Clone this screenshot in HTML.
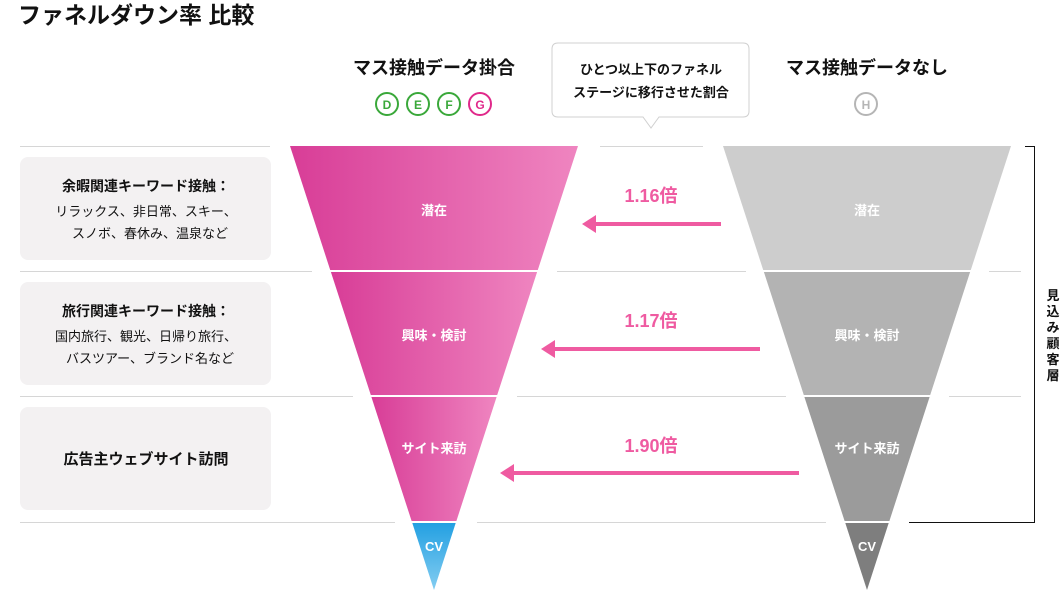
<!DOCTYPE html>
<html><head><meta charset="utf-8"><style>
html,body{margin:0;padding:0;background:#fff;}
body{width:1060px;height:591px;overflow:hidden;font-family:"Liberation Sans","Noto Sans CJK JP",sans-serif;}
text{font-family:"Liberation Sans","Noto Sans CJK JP",sans-serif;}
</style></head><body>
<svg width="1060" height="591" viewBox="0 0 1060 591" xmlns="http://www.w3.org/2000/svg">
<defs>
<linearGradient id="pk" x1="0" x2="1" y1="0" y2="0"><stop offset="0" stop-color="#d83d97"/><stop offset="1" stop-color="#ef85c0"/></linearGradient>
<linearGradient id="bl" x1="0" x2="0" y1="0" y2="1"><stop offset="0" stop-color="#23a0e2"/><stop offset="1" stop-color="#84cdf1"/></linearGradient>
</defs>
<text x="18" y="23" font-size="23" font-weight="bold" fill="#111">ファネルダウン率 比較</text>

<text x="434" y="74" font-size="18" font-weight="bold" fill="#111" text-anchor="middle">マス接触データ掛合</text>
<g font-size="12" font-weight="bold" text-anchor="middle">
<circle cx="387" cy="104" r="11" fill="none" stroke="#3aa83a" stroke-width="2"/><text x="387" y="109" fill="#3aa83a">D</text>
<circle cx="418" cy="104" r="11" fill="none" stroke="#3aa83a" stroke-width="2"/><text x="418" y="109" fill="#3aa83a">E</text>
<circle cx="449" cy="104" r="11" fill="none" stroke="#3aa83a" stroke-width="2"/><text x="449" y="109" fill="#3aa83a">F</text>
<circle cx="480" cy="104" r="11" fill="none" stroke="#e0288a" stroke-width="2"/><text x="480" y="109" fill="#e0288a">G</text>
<circle cx="866" cy="104" r="11" fill="none" stroke="#b5b5b5" stroke-width="2"/><text x="866" y="109" fill="#b5b5b5">H</text>
</g>
<text x="867" y="74" font-size="18" font-weight="bold" fill="#111" text-anchor="middle">マス接触データなし</text>

<path d="M558,43 H743 Q749,43 749,49 V111 Q749,117 743,117 H659 L651,128 L643,117 H558 Q552,117 552,111 V49 Q552,43 558,43 Z" fill="#fff" stroke="#d0d0d0" stroke-width="1"/>
<text x="651" y="74" font-size="13" font-weight="bold" fill="#111" text-anchor="middle">ひとつ以上下のファネル</text>
<text x="651" y="97" font-size="13" font-weight="bold" fill="#111" text-anchor="middle">ステージに移行させた割合</text>

<g stroke="#d6d6d6" stroke-width="1">
<line x1="20" y1="146.5" x2="270" y2="146.5"/><line x1="600" y1="146.5" x2="703" y2="146.5"/>
<line x1="20" y1="271.5" x2="312" y2="271.5"/><line x1="557" y1="271.5" x2="746" y2="271.5"/><line x1="989" y1="271.5" x2="1021" y2="271.5"/>
<line x1="20" y1="396.5" x2="353" y2="396.5"/><line x1="517" y1="396.5" x2="786" y2="396.5"/><line x1="949" y1="396.5" x2="1021" y2="396.5"/>
<line x1="20" y1="522.5" x2="395" y2="522.5"/><line x1="477" y1="522.5" x2="826" y2="522.5"/>
</g>

<rect x="20" y="157" width="251" height="103" rx="8" fill="#f3f1f2"/>
<rect x="20" y="282" width="251" height="103" rx="8" fill="#f3f1f2"/>
<rect x="20" y="407" width="251" height="103" rx="8" fill="#f3f1f2"/>
<g text-anchor="middle" fill="#111">
<text x="146" y="191" font-size="14" font-weight="bold">余暇関連キーワード接触：</text>
<text x="146" y="216" font-size="13">リラックス、非日常、スキー、</text>
<text x="150" y="238" font-size="13">スノボ、春休み、温泉など</text>
<text x="146" y="316" font-size="14" font-weight="bold">旅行関連キーワード接触：</text>
<text x="146" y="341" font-size="13">国内旅行、観光、日帰り旅行、</text>
<text x="150" y="363" font-size="13">バスツアー、ブランド名など</text>
<text x="146" y="464" font-size="15" font-weight="bold">広告主ウェブサイト訪問</text>
</g>

<polygon points="290,146 578,146 537.8,270 330.2,270" fill="url(#pk)"/>
<polygon points="330.9,272 537.1,272 497.2,395 370.8,395" fill="url(#pk)"/>
<polygon points="371.4,397 496.6,397 456.4,521 411.6,521" fill="url(#pk)"/>
<polygon points="412.3,523 455.7,523 434,590" fill="url(#bl)"/>
<polygon points="723,146 1011,146 970.8,270 763.2,270" fill="#cdcdcd"/>
<polygon points="763.9,272 970.1,272 930.2,395 803.8,395" fill="#b3b3b3"/>
<polygon points="804.4,397 929.6,397 889.4,521 844.6,521" fill="#9b9b9b"/>
<polygon points="845.3,523 888.7,523 867,590" fill="#7e7e7e"/>

<g font-size="13" font-weight="bold" fill="#fff" text-anchor="middle">
<text x="434" y="215">潜在</text><text x="434" y="340">興味・検討</text><text x="434" y="453">サイト来訪</text><text x="434" y="551">CV</text>
<text x="867" y="215">潜在</text><text x="867" y="340">興味・検討</text><text x="867" y="453">サイト来訪</text><text x="867" y="551">CV</text>
</g>

<g fill="#ef5ba1">
<text x="651" y="202" font-size="18" font-weight="bold" text-anchor="middle">1.16倍</text>
<rect x="594" y="222" width="127" height="4"/><polygon points="582,224 596,215 596,233"/>
<text x="651" y="327" font-size="18" font-weight="bold" text-anchor="middle">1.17倍</text>
<rect x="553" y="347" width="207" height="4"/><polygon points="541,349 555,340 555,358"/>
<text x="651" y="452" font-size="18" font-weight="bold" text-anchor="middle">1.90倍</text>
<rect x="512" y="471" width="287" height="4"/><polygon points="500,473 514,464 514,482"/>
</g>

<polyline points="1025,146.5 1034.5,146.5 1034.5,522.5 909,522.5" fill="none" stroke="#111" stroke-width="1"/>
<g font-size="13" font-weight="bold" fill="#111" text-anchor="middle">
<text x="1053" y="300">見</text><text x="1053" y="316">込</text><text x="1053" y="332">み</text><text x="1053" y="348">顧</text><text x="1053" y="364">客</text><text x="1053" y="380">層</text>
</g>
</svg>
</body></html>
